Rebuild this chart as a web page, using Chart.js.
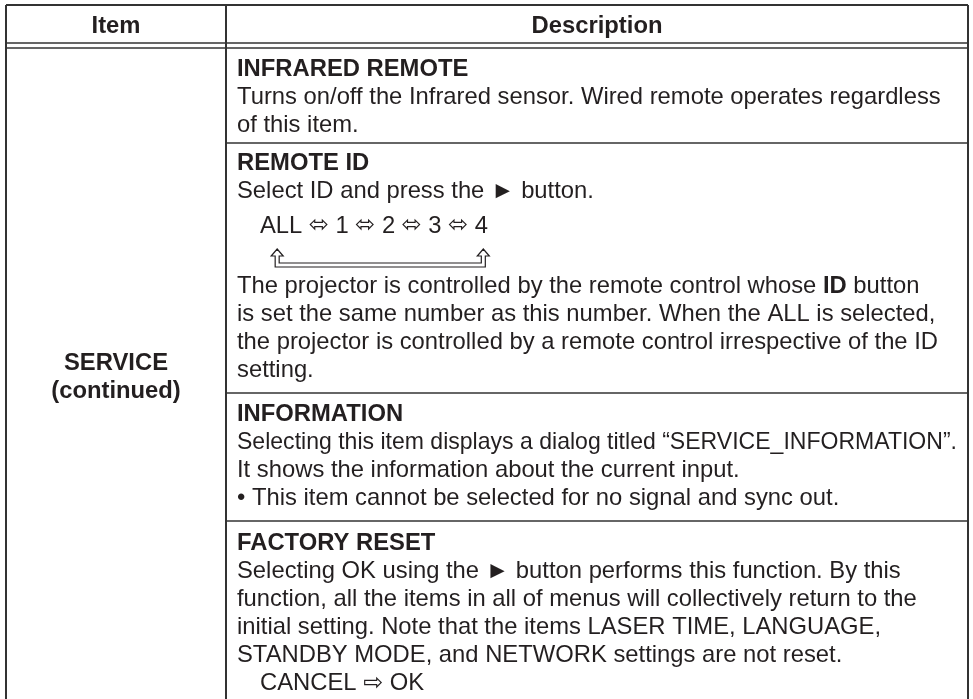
<!DOCTYPE html>
<html>
<head>
<meta charset="utf-8">
<script src="https://cdn.jsdelivr.net/npm/chart.js@4.4.1/dist/chart.umd.min.js"></script>
<style>
  html, body { margin: 0; padding: 0; background: #fff; }
  canvas { display: block; }
</style>
</head>
<body>
<canvas id="tablaServicio" width="973" height="699"></canvas>
<script>
// contenido de la tabla
const columnHeaders = ['Item', 'Description'];
const itemName = ['SERVICE', '(continued)'];
const sectionTitles = ['INFRARED REMOTE', 'REMOTE ID', 'INFORMATION', 'FACTORY RESET'];
const infraredText = [
  'Turns on/off the Infrared sensor. Wired remote operates regardless',
  'of this item.'
];
const remoteIdIntro = ['Select ID and press the \u25BA button.'];
const remoteIdChoices = ['ALL', '1', '2', '3', '4'];
const remoteIdText = [
  'The projector is controlled by the remote control whose **ID** button',
  'is set the same number as this number. When the ALL is selected,',
  'the projector is controlled by a remote control irrespective of the ID',
  'setting.'
];
const informationText = [
  'Selecting this item displays a dialog titled \u201CSERVICE_INFORMATION\u201D.',
  'It shows the information about the current input.',
  '\u2022 This item cannot be selected for no signal and sync out.'
];
const factoryText = [
  'Selecting OK using the \u25BA button performs this function. By this',
  'function, all the items in all of menus will collectively return to the',
  'initial setting. Note that the items LASER TIME, LANGUAGE,',
  'STANDBY MODE, and NETWORK settings are not reset.'
];
const factoryChoices = ['CANCEL', 'OK'];

const FONT_SIZE = 23.8;
const LINE_H = 28;
const MAX_W = 720;
const TEXT_COLOR = '#231f20';
const LINE_COLOR = '#333333';
const FAMILY = "'Liberation Sans', Arial, 'DejaVu Sans', sans-serif";

function fontOf(bold) {
  return (bold ? 'bold ' : '') + FONT_SIZE + 'px ' + FAMILY;
}

// texto con tramos en negrita marcados con **
function drawRich(ctx, text, x, y) {
  const parts = text.split('**');
  if (parts.length === 1) {
    ctx.font = fontOf(false);
    ctx.fillText(text, x, y, MAX_W);
    return;
  }
  let cx = x;
  parts.forEach(function (p, i) {
    ctx.font = fontOf(i % 2 === 1);
    ctx.fillText(p, cx, y);
    cx += ctx.measureText(p).width;
  });
}

function hLine(ctx, x1, x2, y, w) {
  ctx.lineWidth = w;
  ctx.beginPath();
  ctx.moveTo(x1, y);
  ctx.lineTo(x2, y);
  ctx.stroke();
}

function vLine(ctx, x, y1, y2, w) {
  ctx.lineWidth = w;
  ctx.beginPath();
  ctx.moveTo(x, y1);
  ctx.lineTo(x, y2);
  ctx.stroke();
}

// flecha de retorno hueca bajo ALL ... 4
function loopArrow(ctx, lx, rx, top, bot) {
  const h = 7, hw = 6, t = 2;
  ctx.beginPath();
  ctx.moveTo(lx, top);
  ctx.lineTo(lx + hw, top + h);
  ctx.lineTo(lx + t, top + h);
  ctx.lineTo(lx + t, bot - 2 * t);
  ctx.lineTo(rx - t, bot - 2 * t);
  ctx.lineTo(rx - t, top + h);
  ctx.lineTo(rx - hw, top + h);
  ctx.lineTo(rx, top);
  ctx.lineTo(rx + hw, top + h);
  ctx.lineTo(rx + t, top + h);
  ctx.lineTo(rx + t, bot);
  ctx.lineTo(lx - t, bot);
  ctx.lineTo(lx - t, top + h);
  ctx.lineTo(lx - hw, top + h);
  ctx.closePath();
  ctx.fillStyle = '#fff';
  ctx.fill();
  ctx.lineWidth = 1.2;
  ctx.strokeStyle = TEXT_COLOR;
  ctx.stroke();
}

const tablePlugin = {
  id: 'tablaServicio',
  afterDraw(chart) {
    const ctx = chart.ctx;
    const L = 6, C = 226, R = 968, T = 5, HB1 = 43, HB2 = 48, B = 699;
    const dividers = [143, 393, 521];
    const tx = 237, indent = 260;

    ctx.save();
    ctx.fillStyle = '#fff';
    ctx.fillRect(0, 0, chart.width, chart.height);

    // bordes
    ctx.strokeStyle = LINE_COLOR;
    hLine(ctx, L, R, T, 2);
    hLine(ctx, L, R, HB1, 1.5);
    hLine(ctx, L, R, HB2, 1.5);
    vLine(ctx, L, T, B, 2);
    vLine(ctx, R, T, B, 2);
    vLine(ctx, C, T, B, 2);
    dividers.forEach(function (y) { hLine(ctx, C, R, y, 1.5); });

    ctx.fillStyle = TEXT_COLOR;
    ctx.textBaseline = 'alphabetic';

    // cabecera
    ctx.font = fontOf(true);
    ctx.textAlign = 'center';
    ctx.fillText(columnHeaders[0], (L + C) / 2, 33);
    ctx.fillText(columnHeaders[1], (C + R) / 2, 33);

    // columna Item
    ctx.fillText(itemName[0], (L + C) / 2, 370);
    ctx.fillText(itemName[1], (L + C) / 2, 398);
    ctx.textAlign = 'left';

    // INFRARED REMOTE
    let y = 76;
    ctx.font = fontOf(true);
    ctx.fillText(sectionTitles[0], tx, y);
    infraredText.forEach(function (s) { y += LINE_H; drawRich(ctx, s, tx, y); });

    // REMOTE ID
    y = 170;
    ctx.font = fontOf(true);
    ctx.fillText(sectionTitles[1], tx, y);
    remoteIdIntro.forEach(function (s) { y += LINE_H; drawRich(ctx, s, tx, y); });
    y = 233;
    ctx.font = fontOf(false);
    let cx = indent;
    let leftMid = 0, rightMid = 0;
    remoteIdChoices.forEach(function (s, i) {
      const w = ctx.measureText(s).width;
      if (i === 0) leftMid = cx + w / 2 - 4;
      if (i === remoteIdChoices.length - 1) rightMid = cx + w / 2 + 2;
      ctx.fillText(s, cx, y);
      cx += w;
      if (i < remoteIdChoices.length - 1) {
        const sep = ' \u2B04 ';
        ctx.fillText(sep, cx, y - 1);
        cx += ctx.measureText(sep).width;
      }
    });
    loopArrow(ctx, leftMid, rightMid, 249, 267);
    ctx.fillStyle = TEXT_COLOR;
    y = 293;
    remoteIdText.forEach(function (s, i) { drawRich(ctx, s, tx, y + i * LINE_H); });

    // INFORMATION
    y = 421;
    ctx.font = fontOf(true);
    ctx.fillText(sectionTitles[2], tx, y);
    informationText.forEach(function (s) { y += LINE_H; drawRich(ctx, s, tx, y); });

    // FACTORY RESET
    y = 550;
    ctx.font = fontOf(true);
    ctx.fillText(sectionTitles[3], tx, y);
    factoryText.forEach(function (s) { y += LINE_H; drawRich(ctx, s, tx, y); });
    y += LINE_H;
    drawRich(ctx, factoryChoices.join(' \u21E8 '), indent, y);

    ctx.restore();
  }
};

document.addEventListener('DOMContentLoaded', function () {
  const canvas = document.getElementById('tablaServicio');
  new Chart(canvas.getContext('2d'), {
    type: 'scatter',
    data: { datasets: [] },
    options: {
      responsive: false,
      animation: false,
      events: [],
      layout: { padding: 0 },
      scales: { x: { display: false }, y: { display: false } },
      plugins: { legend: { display: false }, tooltip: { enabled: false } }
    },
    plugins: [tablePlugin]
  });
});
</script>
</body>
</html>
